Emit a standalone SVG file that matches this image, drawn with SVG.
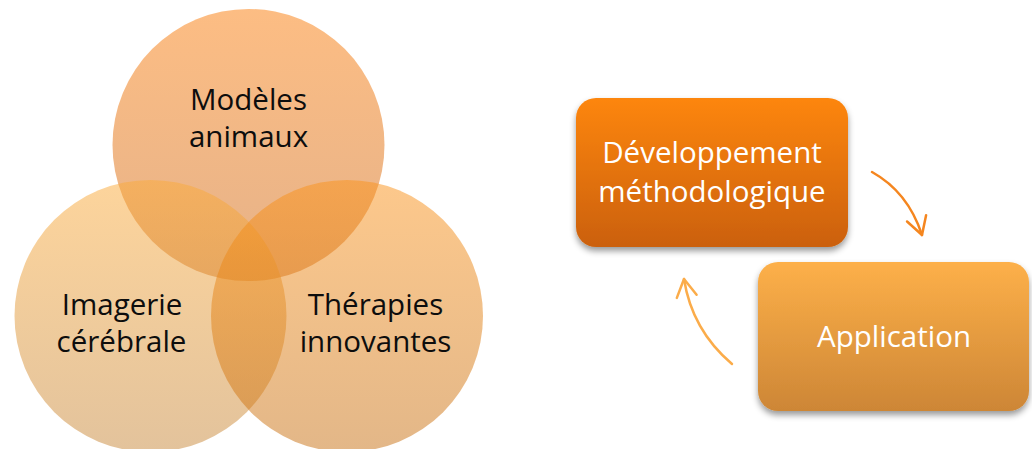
<svg xmlns="http://www.w3.org/2000/svg" width="1032" height="449" viewBox="0 0 1032 449">
  <style>
    .lbl { font-family: "Open Sans", "Liberation Sans", sans-serif; font-size: 29.5px; text-anchor: middle; }
    .dark { fill: #0d0d0d; }
    .light { fill: #ffffff; }
    .venn { fill-opacity: 0.5; }
    .conn { fill: none; stroke-width: 2.5; stroke-linecap: round; }
  </style>
  <defs>
    <linearGradient id="gTop" x1="0" y1="0" x2="0" y2="1">
      <stop offset="0" stop-color="#fa7b08"/>
      <stop offset="1" stop-color="#cc6513"/>
    </linearGradient>
    <linearGradient id="gLeft" x1="0" y1="0" x2="0" y2="1">
      <stop offset="0" stop-color="#fbaa39"/>
      <stop offset="1" stop-color="#c78739"/>
    </linearGradient>
    <linearGradient id="gRight" x1="0" y1="0" x2="0" y2="1">
      <stop offset="0" stop-color="#fb9219"/>
      <stop offset="1" stop-color="#c76f11"/>
    </linearGradient>
    <linearGradient id="gBox1" x1="0" y1="0" x2="0" y2="1">
      <stop offset="0" stop-color="#fd860e"/>
      <stop offset="1" stop-color="#cb600a"/>
    </linearGradient>
    <linearGradient id="gBox2" x1="0" y1="0" x2="0" y2="1">
      <stop offset="0" stop-color="#fdb049"/>
      <stop offset="1" stop-color="#cd8636"/>
    </linearGradient>
    <filter id="shadow" x="-10%" y="-15%" width="120%" height="140%">
      <feDropShadow dx="0" dy="4" stdDeviation="3" flood-color="#000" flood-opacity="0.4"/>
    </filter>
    <marker id="headDark" markerUnits="userSpaceOnUse" markerWidth="30" markerHeight="30" viewBox="-20 -15 25 30" refX="0" refY="0" orient="auto">
      <path d="M-17.5,-10 L0,0 L-17.5,10" fill="none" stroke="#f5861f" stroke-width="2.5" stroke-linecap="round" stroke-linejoin="round"/>
    </marker>
    <marker id="headLight" markerUnits="userSpaceOnUse" markerWidth="30" markerHeight="30" viewBox="-20 -15 25 30" refX="0" refY="0" orient="auto">
      <path d="M-17.5,-10 L0,0 L-17.5,10" fill="none" stroke="#fbac4a" stroke-width="2.5" stroke-linecap="round" stroke-linejoin="round"/>
    </marker>
  </defs>

  <rect width="1032" height="449" fill="#ffffff"/>

  <!-- Venn: three overlapping themes -->
  <g id="venn-modeles">
    <circle class="venn" cx="248.5" cy="145" r="136" fill="url(#gTop)"/>
  </g>
  <g id="venn-imagerie">
    <circle class="venn" cx="150.5" cy="316" r="136" fill="url(#gLeft)"/>
  </g>
  <g id="venn-therapies">
    <circle class="venn" cx="347" cy="316" r="136" fill="url(#gRight)"/>
  </g>
  <g id="venn-labels">
    <text class="lbl dark" x="248.5" y="110">Modèles</text>
    <text class="lbl dark" x="248.5" y="147">animaux</text>
    <text class="lbl dark" x="122" y="315">Imagerie</text>
    <text class="lbl dark" x="121.5" y="352">cérébrale</text>
    <text class="lbl dark" x="375.5" y="315">Thérapies</text>
    <text class="lbl dark" x="375.5" y="352">innovantes</text>
  </g>

  <!-- Cycle: development and application -->
  <g id="node-developpement">
    <rect x="576" y="98" width="272" height="149" rx="20" ry="20" fill="url(#gBox1)" filter="url(#shadow)"/>
    <text class="lbl light" x="712" y="163">Développement</text>
    <text class="lbl light" x="712" y="202">méthodologique</text>
  </g>
  <g id="node-application">
    <rect x="758" y="262" width="271" height="149" rx="20" ry="20" fill="url(#gBox2)" filter="url(#shadow)"/>
    <text class="lbl light" x="894" y="347">Application</text>
  </g>

  <g id="connectors">
    <path class="conn" d="M872,172 Q908,192 922,235" stroke="#f5861f" marker-end="url(#headDark)"/>
    <path class="conn" d="M732,364 Q692,330 684,279" stroke="#fbac4a" marker-end="url(#headLight)"/>
  </g>
</svg>
